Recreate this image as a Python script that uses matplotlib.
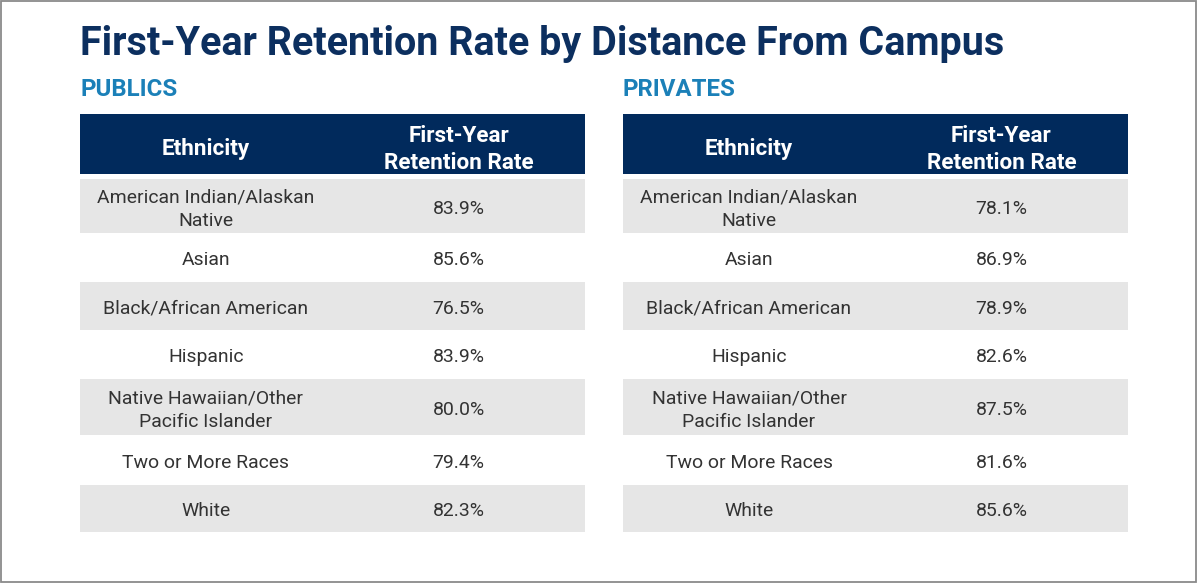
import matplotlib
matplotlib.use("Agg")
import matplotlib.pyplot as plt
from matplotlib.patches import Rectangle

# ---------------- data ----------------
title = "First-Year Retention Rate by Distance From Campus"
panel_titles = ["PUBLICS", "PRIVATES"]
col_headers = ["Ethnicity", "First-Year\nRetention Rate"]
ethnicities = [
    "American Indian/Alaskan\nNative",
    "Asian",
    "Black/African American",
    "Hispanic",
    "Native Hawaiian/Other\nPacific Islander",
    "Two or More Races",
    "White",
]
publics = [83.9, 85.6, 76.5, 83.9, 80.0, 79.4, 82.3]
privates = [78.1, 86.9, 78.9, 82.6, 87.5, 81.6, 85.6]

# ---------------- style / layout ----------------
W, H = 1200, 583
FONT = "Roboto"
NAVY = "#012a5c"
TITLE_C = "#0c2f5f"
SUB_C = "#1b80b8"
GRAY = "#e6e6e6"
TXT = "#333333"
CAP = 0.711  # cap-height ratio of Roboto

table_lefts = [80, 623]
table_width = 505
col_split = 252
header_top, header_bot = 114, 174
row_edges = [179, 233, 282, 330, 379, 435, 485, 532]

fig = plt.figure(figsize=(W / 100, H / 100), dpi=100)
ax = fig.add_axes([0, 0, 1, 1])
ax.set_xlim(0, W)
ax.set_ylim(H, 0)
ax.axis("off")
renderer = fig.canvas.get_renderer()


def fit(text, target_w, weight="normal"):
    t = ax.text(0, 0, text, fontsize=20, family=FONT, fontweight=weight)
    w = t.get_window_extent(renderer).width
    t.remove()
    return 20 * target_w / w


def cap_px(fs):
    return fs * 100 / 72 * CAP


def put_lines(x, yc, text, fs, spacing, **kw):
    lines = text.split("\n")
    n = len(lines)
    for i, ln in enumerate(lines):
        y = yc + (i - (n - 1) / 2) * spacing + cap_px(fs) / 2
        ax.text(x, y, ln, fontsize=fs, family=FONT, ha="center", va="baseline", **kw)


# border
ax.add_patch(Rectangle((0.5, 0.5), 1195, 581, fill=False, ec="#8a8a8a", lw=1.3))

# title
fs_title = fit(title, 923, "bold")
ax.text(80, 55, title, fontsize=fs_title, family=FONT, fontweight="bold",
        color=TITLE_C, ha="left", va="baseline")

fs_sub = fit("PUBLICS", 97, "bold")
fs_head = fit("Retention Rate", 149, "bold")
fs_body = fit("Black/African American", 205)

for t_i, (left, vals) in enumerate(zip(table_lefts, [publics, privates])):
    ax.text(left, 96.5, panel_titles[t_i], fontsize=fs_sub, family=FONT,
            fontweight="bold", color=SUB_C, ha="left", va="baseline")
    # header
    ax.add_patch(Rectangle((left, header_top), table_width, header_bot - header_top,
                           fc=NAVY, ec="none"))
    c1 = left + col_split / 2
    c2 = left + col_split + (table_width - col_split) / 2
    hc = 147.5
    put_lines(c1, hc, col_headers[0], fs_head, 26.7, color="white", fontweight="bold")
    put_lines(c2, hc, col_headers[1], fs_head, 26.7, color="white", fontweight="bold")
    # rows
    for r, (eth, v) in enumerate(zip(ethnicities, vals)):
        top, bot = row_edges[r], row_edges[r + 1]
        if r % 2 == 0:
            ax.add_patch(Rectangle((left, top), table_width, bot - top, fc=GRAY, ec="none"))
        yc = (top + bot) / 2 + 1
        put_lines(c1, yc, eth, fs_body, 23.8, color=TXT)
        put_lines(c2, yc, f"{v:.1f}%", fs_body, 23.8, color=TXT)

fig.savefig("out.png", dpi=100, facecolor="white")
